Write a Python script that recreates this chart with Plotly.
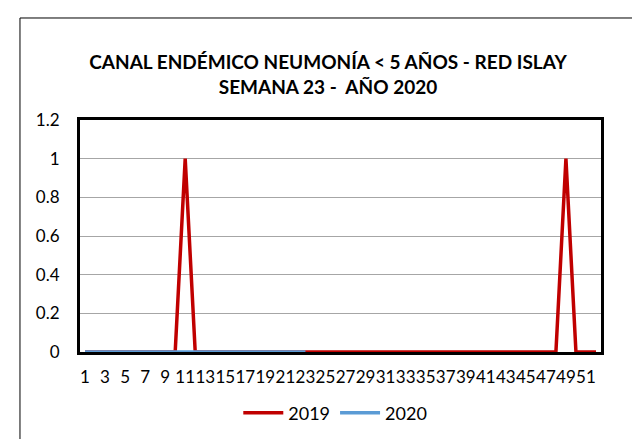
import plotly.graph_objects as go

# semanas epidemiologicas 1..52
semanas = ["1", "2", "3", "4", "5", "6", "7", "8", "9", "10", "11", "12", "13",
           "14", "15", "16", "17", "18", "19", "20", "21", "22", "23", "24", "25", "26",
           "27", "28", "29", "30", "31", "32", "33", "34", "35", "36", "37", "38", "39",
           "40", "41", "42", "43", "44", "45", "46", "47", "48", "49", "50", "51", "52"]

casos_2019 = [0, 0, 0, 0, 0, 0, 0, 0, 0, 0, 1, 0, 0,
              0, 0, 0, 0, 0, 0, 0, 0, 0, 0, 0, 0, 0,
              0, 0, 0, 0, 0, 0, 0, 0, 0, 0, 0, 0, 0,
              0, 0, 0, 0, 0, 0, 0, 0, 0, 1, 0, 0, 0]

# 2020 solo hasta la semana 23
casos_2020 = [0, 0, 0, 0, 0, 0, 0, 0, 0, 0, 0, 0, 0,
              0, 0, 0, 0, 0, 0, 0, 0, 0, 0]

etiquetas_x = ["1", "3", "5", "7", "9", "11", "13", "15", "17", "19", "21", "23", "25",
               "27", "29", "31", "33", "35", "37", "39", "41", "43", "45", "47", "49", "51"]
valores_y = [0, 0.2, 0.4, 0.6, 0.8, 1, 1.2]
texto_y = ["0", "0.2", "0.4", "0.6", "0.8", "1", "1.2"]

FONT = "Lato"

fig = go.Figure()
fig.add_trace(go.Scatter(x=semanas, y=casos_2019, mode="lines", name="2019",
                         line=dict(color="#C00000", width=3.5)))
fig.add_trace(go.Scatter(x=semanas[:len(casos_2020)], y=casos_2020, mode="lines", name="2020",
                         line=dict(color="#5B9BD5", width=3.5)))

# marco exterior del grafico (estilo Excel)
fig.add_shape(type="rect", xref="paper", yref="paper",
              x0=-0.1152, x1=1.0825, y0=-0.45, y1=1.4397,
              line=dict(color="#000000", width=1), layer="below")

fig.update_layout(
    width=640, height=439,
    margin=dict(l=72, r=47, t=112, b=95),
    paper_bgcolor="white", plot_bgcolor="white",
    font=dict(family=FONT, color="black"),
    title=dict(text="<b>CANAL ENDÉMICO NEUMONÍA < 5 AÑOS - RED ISLAY<br>SEMANA 23 -  AÑO 2020</b>",
               x=0.5, xanchor="center", y=1 - 61 / 439, yanchor="middle",
               font=dict(family=FONT, size=19, color="black")),
    legend=dict(orientation="h", x=0.49, xanchor="center", y=-0.263, yanchor="middle",
                font=dict(size=18), itemwidth=40),
    showlegend=True,
)
fig.update_xaxes(type="category", tickmode="array", tickvals=etiquetas_x, ticktext=etiquetas_x,
                 tickangle=0,
                 showgrid=False, showline=True, linecolor="black", linewidth=3, mirror=True,
                 ticks="", tickfont=dict(size=17), ticklabelstandoff=8, range=[-0.5, 51.5])
fig.update_yaxes(range=[0, 1.2], tickmode="array", tickvals=valores_y, ticktext=texto_y,
                 showgrid=True, gridcolor="#A6A6A6", gridwidth=1.3, zeroline=False,
                 showline=True, linecolor="black", linewidth=3, mirror=True,
                 ticks="", tickfont=dict(size=17), ticklabelstandoff=14)

fig.write_html("out.html")
